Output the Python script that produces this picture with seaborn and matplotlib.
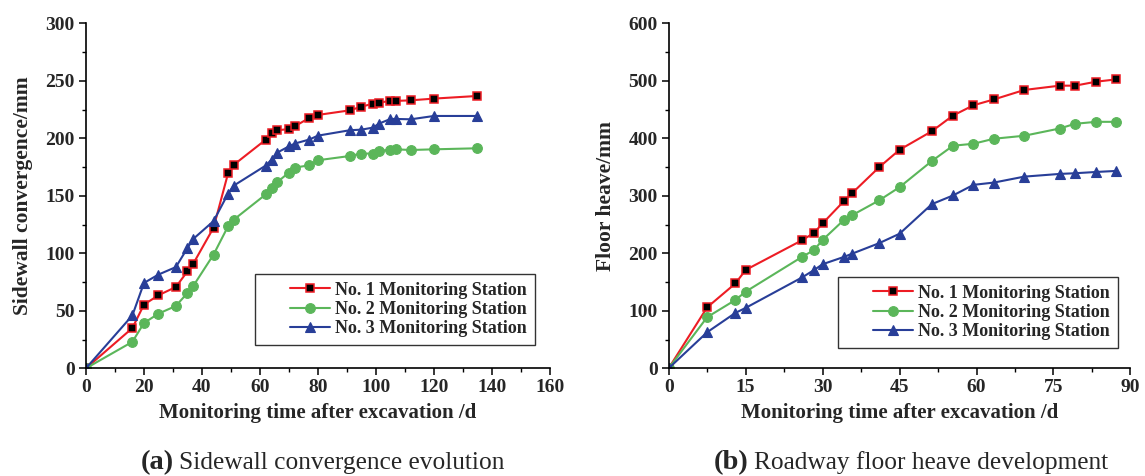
import numpy as np
import pandas as pd
import matplotlib
matplotlib.use("Agg")
import matplotlib.pyplot as plt
from matplotlib.ticker import MultipleLocator
from matplotlib.legend_handler import HandlerLine2D
import seaborn as sns

# ---- data: (a) sidewall convergence ----
days_a = [0, 16, 20, 25, 31, 35, 37, 44, 49, 51, 62, 64, 66, 70, 72, 77, 80,
          91, 95, 99, 101, 105, 107, 112, 120, 135]
conv_st1 = [0, 35, 55.4, 63.5, 70.7, 84.3, 91, 122.3, 169.6, 177, 198.8, 204.3,
            207, 208, 210.4, 217.7, 220.3, 224.3, 227.5, 230.1, 231, 232.5,
            232.5, 233, 234.5, 236.8]
conv_st2 = [0, 23, 39.4, 47.5, 54.2, 65.5, 71.6, 98.9, 123.5, 129.3, 151.2,
            157.1, 162, 170.2, 174.5, 176.5, 180.9, 184.6, 186.7, 186.7, 189.3,
            189.8, 190.4, 189.8, 190.4, 191.3]
conv_st3 = [0, 46, 74.2, 81.5, 88, 104.6, 112.5, 128, 151.9, 158.9, 176.3,
            181.5, 187.6, 193, 195.4, 198.9, 202.3, 207, 207.5, 209.3, 212.7,
            216.8, 216.8, 216.5, 219.4, 219.4]

# ---- data: (b) floor heave ----
days_b = [0, 7.5, 13, 15, 26, 28.3, 30, 34.2, 35.8, 41, 45, 51.3, 55.4, 59.4,
          63.4, 69.3, 76.2, 79.2, 83.3, 87.2]
heave_st1 = [0, 106, 147.5, 171, 222.7, 235.3, 252, 291.2, 305, 349.5, 380,
             412.3, 439.5, 457.4, 467.6, 484, 491.5, 491.5, 498.4, 502.4]
heave_st2 = [0, 88.9, 118.8, 133.2, 193.8, 205.4, 223.2, 258.4, 266.4, 291.9,
             315, 360.5, 387, 390.5, 399.2, 404.4, 417, 425.2, 428.6, 428.6]
heave_st3 = [0, 62.7, 96.3, 105, 158, 170.7, 181, 193.8, 199.5, 217.5, 234,
             285.5, 300.5, 319, 323, 333.3, 338, 339.2, 341.4, 343.2]

stations = ["No. 1 Monitoring Station", "No. 2 Monitoring Station",
            "No. 3 Monitoring Station"]
x_label = "Monitoring time after excavation /d"
y_label_a = "Sidewall convergence/mm"
y_label_b = "Floor heave/mm"
caption_tag = ["(a)", "(b)"]
caption_text = ["Sidewall convergence evolution", "Roadway floor heave development"]

sns.set_style("ticks")
plt.rcParams["font.family"] = ["Liberation Serif", "DejaVu Serif"]
plt.rcParams["font.weight"] = "bold"

RED = "#ED1C24"
GREEN = "#5BB65A"
BLUE = "#283E98"

styles = [
    dict(color=RED, marker="s", markersize=6, markerfacecolor="black",
         markeredgecolor=RED, markeredgewidth=1.1),
    dict(color=GREEN, marker="o", markersize=7, markerfacecolor=GREEN,
         markeredgecolor=GREEN, markeredgewidth=0.8),
    dict(color=BLUE, marker="^", markersize=7.5, markerfacecolor=BLUE,
         markeredgecolor=BLUE, markeredgewidth=0.8),
]

fig = plt.figure(figsize=(11.45, 4.76), dpi=100)
ax1 = fig.add_axes([0.0751, 0.2263, 0.4052, 0.7248])
ax2 = fig.add_axes([0.5840, 0.2263, 0.4033, 0.7248])

def draw(ax, days, series):
    for name, vals, st in zip(stations, series, styles):
        df = pd.DataFrame({"day": days, "val": vals})
        sns.lineplot(data=df, x="day", y="val", ax=ax, label=name,
                     linewidth=1.5, errorbar=None, sort=False, **st)

draw(ax1, days_a, [conv_st1, conv_st2, conv_st3])
draw(ax2, days_b, [heave_st1, heave_st2, heave_st3])

ax1.set_xlim(0, 160)
ax1.set_ylim(0, 300)
ax1.xaxis.set_major_locator(MultipleLocator(20))
ax1.xaxis.set_minor_locator(MultipleLocator(10))
ax1.yaxis.set_major_locator(MultipleLocator(50))
ax1.yaxis.set_minor_locator(MultipleLocator(25))

ax2.set_xlim(0, 90)
ax2.set_ylim(0, 600)
ax2.xaxis.set_major_locator(MultipleLocator(15))
ax2.xaxis.set_minor_locator(MultipleLocator(7.5))
ax2.yaxis.set_major_locator(MultipleLocator(100))
ax2.yaxis.set_minor_locator(MultipleLocator(50))

for ax, yl in [(ax1, y_label_a), (ax2, y_label_b)]:
    sns.despine(ax=ax)
    for s in ["left", "bottom"]:
        ax.spines[s].set_linewidth(1.2)
        ax.spines[s].set_color("black")
    ax.tick_params(which="major", direction="out", length=5, width=1.1,
                   labelsize=14, color="black", pad=3)
    ax.tick_params(which="minor", direction="out", length=3, width=1.0,
                   color="black")
    for lab in ax.get_xticklabels() + ax.get_yticklabels():
        lab.set_fontweight("bold")
    ax.set_xlabel(x_label, fontsize=15, fontweight="bold", labelpad=5)
    ax.set_ylabel(yl, fontsize=15.5, fontweight="bold", labelpad=9)

FS = 13
leg_kw = dict(loc="lower right", frameon=True, fancybox=False,
              prop={"weight": "bold", "size": FS}, handlelength=3.7,
              handletextpad=0.3, labelspacing=0.12, borderpad=0.45,
              borderaxespad=0)
for ax, anchor in [(ax1, (0.968, 0.067)), (ax2, (0.973, 0.058))]:
    handles, labels = ax.get_legend_handles_labels()
    hm = {h: HandlerLine2D(xpad=1.5) for h in handles}
    leg = ax.legend(handles, labels, bbox_to_anchor=anchor, handler_map=hm,
                    **leg_kw)
    leg.get_frame().set_edgecolor("black")
    leg.get_frame().set_linewidth(1.0)

# captions
for tag, txt, xr in [(caption_tag[0], caption_text[0], 0.1515),
                     (caption_tag[1], caption_text[1], 0.6535)]:
    fig.text(xr, 0.014, tag, ha="right", va="baseline", fontsize=20.5,
             fontweight="bold")
    fig.text(xr + 0.005, 0.014, txt, ha="left", va="baseline", fontsize=18.3,
             fontweight="normal")

fig.savefig("out.png", dpi=100)
